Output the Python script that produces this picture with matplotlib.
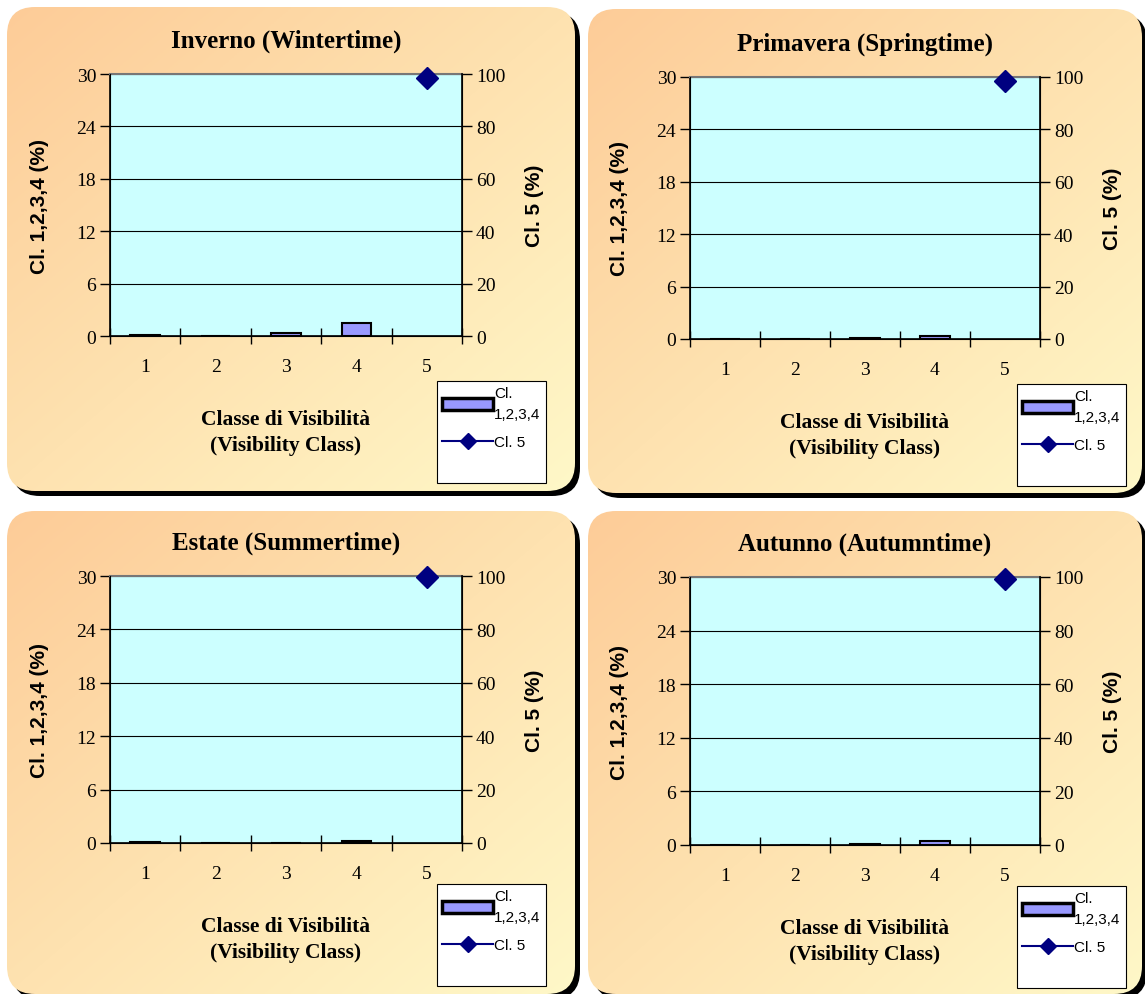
import numpy as np
import matplotlib
matplotlib.use("Agg")
import matplotlib.pyplot as plt
from matplotlib.patches import FancyBboxPatch, Rectangle
from matplotlib.lines import Line2D

W, H = 1145, 995

# data
classes = [1, 2, 3, 4, 5]
titles = ["Inverno (Wintertime)", "Primavera (Springtime)",
          "Estate (Summertime)", "Autunno (Autumntime)"]
cl1234_winter = [0.1, 0.05, 0.4, 1.5]
cl1234_spring = [0.0, 0.0, 0.15, 0.4]
cl1234_summer = [0.1, 0.0, 0.0, 0.2]
cl1234_autumn = [0.0, 0.0, 0.1, 0.5]
cl5_winter = 98.3
cl5_spring = 98.6
cl5_summer = 99.8
cl5_autumn = 99.4

bars = [cl1234_winter, cl1234_spring, cl1234_summer, cl1234_autumn]
cl5 = [cl5_winter, cl5_spring, cl5_summer, cl5_autumn]
left_ticks = [0, 6, 12, 18, 24, 30]
right_ticks = [0, 20, 40, 60, 80, 100]

# panel boxes and plot areas in pixels (x0, y0, x1, y1)
panels = [(7, 8, 575, 492), (588, 10, 1142, 494), (7, 512, 575, 995), (588, 512, 1142, 995)]
plots = [(110, 75, 462, 337), (690, 78, 1040, 340), (110, 577, 462, 844), (690, 578, 1040, 846)]
legends = [(437, 382), (1017, 385), (437, 885), (1017, 887)]

fig = plt.figure(figsize=(W / 100, H / 100), dpi=100)
fig.patch.set_facecolor("white")

bg = fig.add_axes([0, 0, 1, 1])
bg.set_xlim(0, W)
bg.set_ylim(H, 0)
bg.axis("off")

c0 = np.array([253, 204, 152]) / 255
c1 = np.array([255, 248, 200]) / 255
gx, gy = np.meshgrid(np.linspace(0, 1, 200), np.linspace(0, 1, 200))
t = ((gx + gy) / 2)[..., None]
grad = c0 * (1 - t) + c1 * t

for (x0, y0, x1, y1) in panels:
    r = 28
    sh = FancyBboxPatch((x0 + r + 5, y0 + r + 5), x1 - x0 - 2 * r, y1 - y0 - 2 * r,
                        boxstyle="round,pad=%d" % r, fc="black", ec="none")
    bg.add_patch(sh)
    box = FancyBboxPatch((x0 + r, y0 + r), x1 - x0 - 2 * r, y1 - y0 - 2 * r,
                         boxstyle="round,pad=%d" % r, fc="none", ec="none")
    bg.add_patch(box)
    im = bg.imshow(grad, extent=(x0, x1, y1, y0), aspect="auto", zorder=1)
    im.set_clip_path(box)


def px(x0, y0, x1, y1):
    return [x0 / W, 1 - y1 / H, (x1 - x0) / W, (y1 - y0) / H]


serif = "Liberation Serif"
sans = "Liberation Sans"

for i in range(4):
    x0, y0, x1, y1 = plots[i]
    ax = fig.add_axes(px(x0, y0, x1, y1))
    ax.set_facecolor("#CCFFFF")
    ax.bar(classes[:4], bars[i], width=0.42, color="#9999FF", edgecolor="black",
           linewidth=1.5, zorder=3)
    ax.set_xlim(0.5, 5.5)
    ax.set_ylim(0, 30)
    ax.set_yticks(left_ticks)
    ax.yaxis.grid(True, color="black", linewidth=0.8)
    ax.set_axisbelow(True)
    ax.set_xticks([0.5, 1.5, 2.5, 3.5, 4.5, 5.5])
    ax.set_xticklabels([])
    ax.set_xticks(classes, minor=True)
    ax.set_xticklabels([str(c) for c in classes], minor=True, fontfamily=serif, fontsize=14)
    ax.tick_params(axis="x", which="minor", length=0, pad=16)
    ax.tick_params(axis="x", which="major", direction="inout", length=12, width=1)
    ax.tick_params(axis="y", direction="out", length=7, width=1, labelsize=14, pad=3)
    for lb in ax.get_yticklabels():
        lb.set_fontfamily(serif)
    for s in ["left", "bottom"]:
        ax.spines[s].set_linewidth(1.2)
    ax.spines["top"].set_color("#777777")
    ax.spines["top"].set_linewidth(1.5)
    ax.set_ylabel("Cl. 1,2,3,4 (%)", fontfamily=sans, fontweight="bold", fontsize=15, labelpad=20)
    ax.set_xlabel("Classe di Visibilità\n(Visibility Class)", fontfamily=serif,
                  fontweight="bold", fontsize=15.5, labelpad=24, linespacing=1.45)
    ax.set_title(titles[i], fontfamily=serif, fontweight="bold", fontsize=18, pad=20)

    ax2 = ax.twinx()
    ax2.set_ylim(0, 100)
    ax2.set_yticks(right_ticks)
    ax2.tick_params(axis="y", direction="out", length=7, width=1, labelsize=14, pad=3)
    for lb in ax2.get_yticklabels():
        lb.set_fontfamily(serif)
    ax2.spines["right"].set_linewidth(1.2)
    ax2.spines["top"].set_visible(False)
    ax2.plot([classes[4]], [cl5[i]], color="#000080", marker="D", markersize=11,
             linewidth=1.5, clip_on=False, zorder=4)
    ax2.set_ylabel("Cl. 5 (%)", fontfamily=sans, fontweight="bold", fontsize=15, labelpad=14)

    lx, ly = legends[i]
    handles = [Rectangle((0, 0), 1, 1, fc="#9999FF", ec="black", lw=2.5),
               Line2D([], [], color="#000080", marker="D", markersize=8, lw=1.5),
               Line2D([], [], alpha=0)]
    leg = fig.legend(handles, ["Cl.\n1,2,3,4", "Cl. 5", ""], loc="upper left",
                     bbox_to_anchor=(lx / W, 1 - ly / H), frameon=True, fancybox=False,
                     framealpha=1, prop={"family": sans, "size": 11},
                     handlelength=3.3, handleheight=0.9,
                     handletextpad=0.1, borderpad=0.35, labelspacing=0.9,
                     borderaxespad=0)
    leg.get_texts()[0].set_linespacing(1.6)
    leg.get_frame().set_edgecolor("black")
    leg.get_frame().set_linewidth(0.8)
    leg.set_zorder(10)

fig.savefig("out.png", dpi=100)
